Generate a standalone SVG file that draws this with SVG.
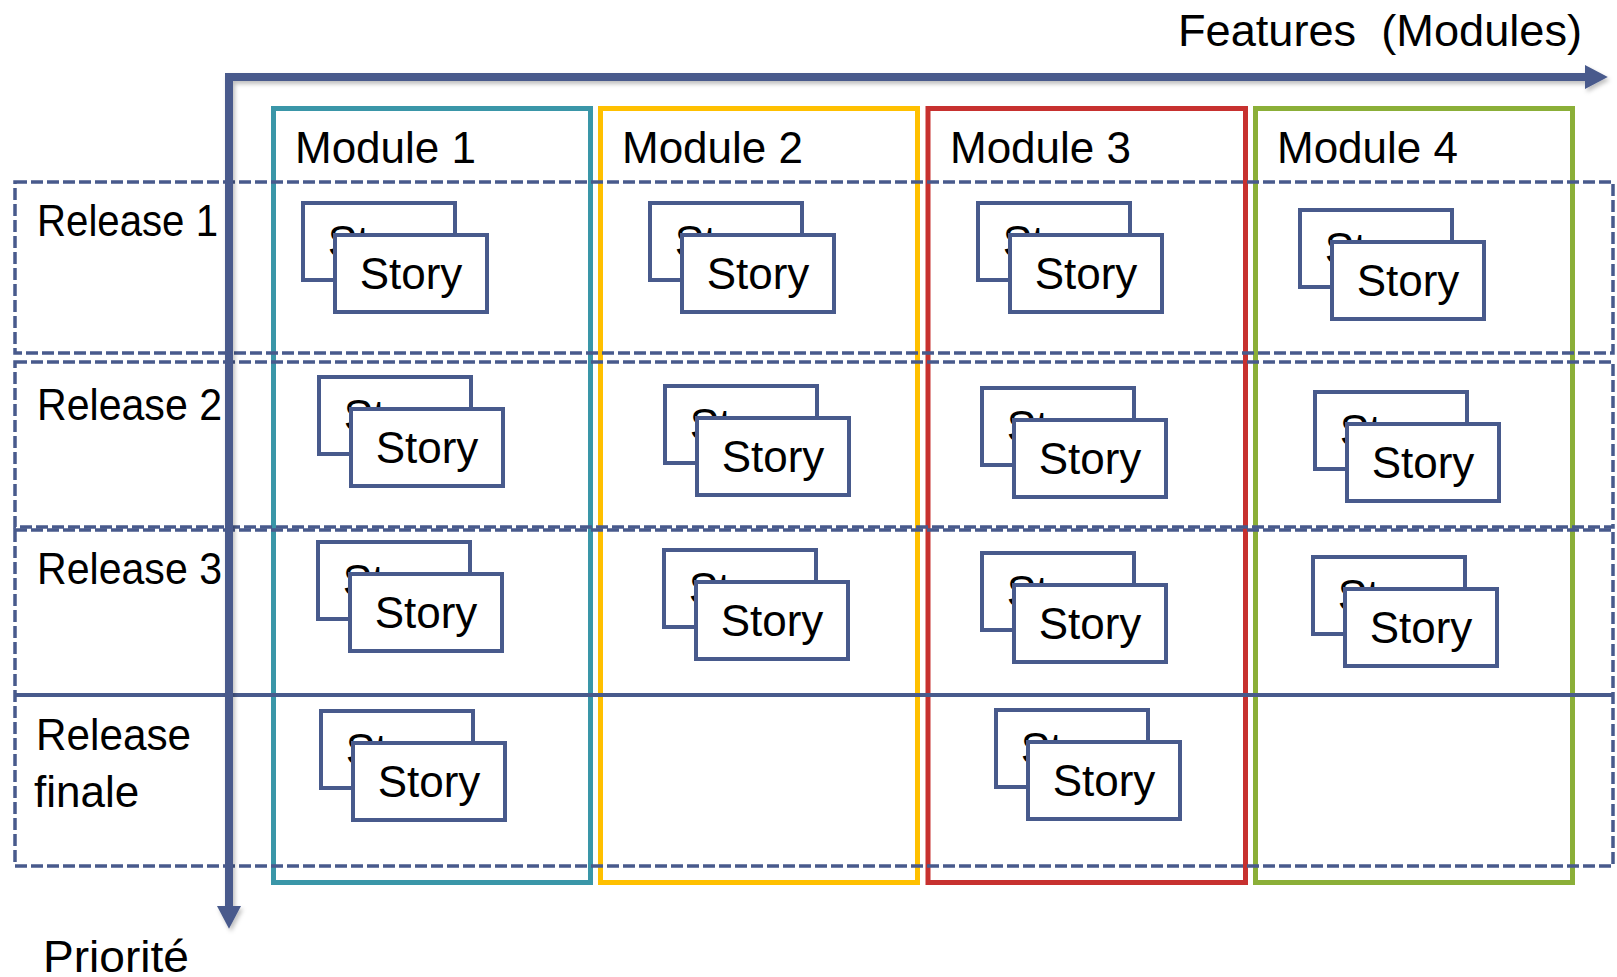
<svg xmlns="http://www.w3.org/2000/svg" width="1617" height="977" viewBox="0 0 1617 977">
<style>
text{font-family:"Liberation Sans",Arial,sans-serif;font-size:44px;fill:#000}
.mod{fill:none;stroke-width:5}
.rel{fill:none;stroke:#485A8C;stroke-width:3.5;stroke-dasharray:12 4}
.sep{stroke:#485A8C;stroke-width:4}
.axis{fill:none;stroke:#485A8C;stroke-width:8;stroke-linejoin:miter}
.card{fill:#fff;stroke:#485A8C;stroke-width:4}
.st{text-anchor:middle}
</style>
<defs>
<marker id="ah" markerUnits="userSpaceOnUse" markerWidth="24" markerHeight="24" refX="0" refY="10" orient="auto-start-reverse" viewBox="0 0 20 20" overflow="visible">
<path d="M0,0 L19,10 L0,20 z" fill="#485A8C"/>
</marker>
<filter id="sh" x="-5%" y="-5%" width="110%" height="110%">
<feDropShadow dx="2" dy="3" stdDeviation="2" flood-color="#000" flood-opacity="0.25"/>
</filter>
</defs>
<rect width="1617" height="977" fill="#fff"/>

<g id="module1"><rect class="mod" x="273.5" y="108.5" width="317" height="774" stroke="#3A96A8"/><text x="295" y="163">Module 1</text></g>
<g id="module2"><rect class="mod" x="600.5" y="108.5" width="317" height="774" stroke="#FFC000"/><text x="622" y="163">Module 2</text></g>
<g id="module3"><rect class="mod" x="928" y="108.5" width="317.5" height="774" stroke="#C7312F"/><text x="950" y="163">Module 3</text></g>
<g id="module4"><rect class="mod" x="1255.5" y="108.5" width="317" height="774" stroke="#8BAF38"/><text x="1277" y="163">Module 4</text></g>

<g id="release1"><rect class="rel" x="15" y="182" width="1598" height="171"/><text x="37" y="236" textLength="181" lengthAdjust="spacingAndGlyphs">Release 1</text></g>
<g id="release2"><rect class="rel" x="15" y="362" width="1598" height="165"/><text x="37" y="420" textLength="185" lengthAdjust="spacingAndGlyphs">Release 2</text></g>
<g id="release3"><rect class="rel" x="15" y="530" width="1598" height="336"/><line class="sep" x1="15" y1="695" x2="1613" y2="695"/><text x="37" y="584" textLength="185" lengthAdjust="spacingAndGlyphs">Release 3</text></g>
<g id="releasefinale"><text x="36" y="750" textLength="155" lengthAdjust="spacingAndGlyphs">Release</text><text x="34" y="807">finale</text></g>

<g id="connectors">
<path class="axis" filter="url(#sh)" d="M229,906 V77 H1585" marker-start="url(#ah)" marker-end="url(#ah)"/>
</g>
<g id="axis-labels">
<text x="1178" y="46" textLength="404" lengthAdjust="spacingAndGlyphs" xml:space="preserve">Features  (Modules)</text>
<text x="43" y="972" textLength="146" lengthAdjust="spacingAndGlyphs">Priorité</text>
</g>

<g id="s-r1-m1"><rect class="card" x="303" y="203" width="152" height="77"/><text class="st" x="379" y="257">Story</text><rect class="card" x="335" y="235" width="152" height="77"/><text class="st" x="411" y="289">Story</text></g>
<g id="s-r1-m2"><rect class="card" x="650" y="203" width="152" height="77"/><text class="st" x="726" y="257">Story</text><rect class="card" x="682" y="235" width="152" height="77"/><text class="st" x="758" y="289">Story</text></g>
<g id="s-r1-m3"><rect class="card" x="978" y="203" width="152" height="77"/><text class="st" x="1054" y="257">Story</text><rect class="card" x="1010" y="235" width="152" height="77"/><text class="st" x="1086" y="289">Story</text></g>
<g id="s-r1-m4"><rect class="card" x="1300" y="210" width="152" height="77"/><text class="st" x="1376" y="264">Story</text><rect class="card" x="1332" y="242" width="152" height="77"/><text class="st" x="1408" y="296">Story</text></g>

<g id="s-r2-m1"><rect class="card" x="319" y="377" width="152" height="77"/><text class="st" x="395" y="431">Story</text><rect class="card" x="351" y="409" width="152" height="77"/><text class="st" x="427" y="463">Story</text></g>
<g id="s-r2-m2"><rect class="card" x="665" y="386" width="152" height="77"/><text class="st" x="741" y="440">Story</text><rect class="card" x="697" y="418" width="152" height="77"/><text class="st" x="773" y="472">Story</text></g>
<g id="s-r2-m3"><rect class="card" x="982" y="388" width="152" height="77"/><text class="st" x="1058" y="442">Story</text><rect class="card" x="1014" y="420" width="152" height="77"/><text class="st" x="1090" y="474">Story</text></g>
<g id="s-r2-m4"><rect class="card" x="1315" y="392" width="152" height="77"/><text class="st" x="1391" y="446">Story</text><rect class="card" x="1347" y="424" width="152" height="77"/><text class="st" x="1423" y="478">Story</text></g>

<g id="s-r3-m1"><rect class="card" x="318" y="542" width="152" height="77"/><text class="st" x="394" y="596">Story</text><rect class="card" x="350" y="574" width="152" height="77"/><text class="st" x="426" y="628">Story</text></g>
<g id="s-r3-m2"><rect class="card" x="664" y="550" width="152" height="77"/><text class="st" x="740" y="604">Story</text><rect class="card" x="696" y="582" width="152" height="77"/><text class="st" x="772" y="636">Story</text></g>
<g id="s-r3-m3"><rect class="card" x="982" y="553" width="152" height="77"/><text class="st" x="1058" y="607">Story</text><rect class="card" x="1014" y="585" width="152" height="77"/><text class="st" x="1090" y="639">Story</text></g>
<g id="s-r3-m4"><rect class="card" x="1313" y="557" width="152" height="77"/><text class="st" x="1389" y="611">Story</text><rect class="card" x="1345" y="589" width="152" height="77"/><text class="st" x="1421" y="643">Story</text></g>

<g id="s-r4-m1"><rect class="card" x="321" y="711" width="152" height="77"/><text class="st" x="397" y="765">Story</text><rect class="card" x="353" y="743" width="152" height="77"/><text class="st" x="429" y="797">Story</text></g>
<g id="s-r4-m3"><rect class="card" x="996" y="710" width="152" height="77"/><text class="st" x="1072" y="764">Story</text><rect class="card" x="1028" y="742" width="152" height="77"/><text class="st" x="1104" y="796">Story</text></g>
</svg>
